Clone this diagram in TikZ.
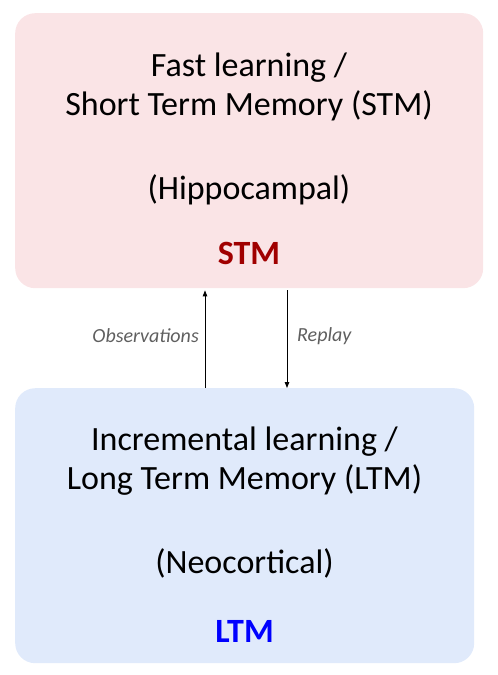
\documentclass[tikz,border=0pt]{standalone}
\usepackage{fontspec}
\setmainfont{Carlito}
\usetikzlibrary{arrows.meta}
\definecolor{stmfill}{RGB}{250,228,230}
\definecolor{ltmfill}{RGB}{224,234,251}
\definecolor{stmred}{RGB}{160,0,0}
\definecolor{ltmblue}{RGB}{0,0,255}
\definecolor{lblgray}{RGB}{95,95,95}
\begin{document}
\begin{tikzpicture}[x=1pt,y=-1pt,
  memb/.style={rounded corners=20pt,inner sep=0pt,anchor=north west},
  txt/.style={font=\fontsize{34}{38}\selectfont,anchor=base,inner sep=0pt},
  tag/.style={font=\fontsize{34}{38}\selectfont\bfseries,anchor=base,inner sep=0pt},
  lbl/.style={font=\fontsize{20}{24}\selectfont\itshape,text=lblgray,inner sep=0pt},
  arr/.style={line width=0.9pt,-{Triangle[length=6pt,width=4.5pt]}}]
\useasboundingbox (0,0) rectangle (498,675);
\node[memb,fill=stmfill,minimum width=468pt,minimum height=275pt] (stm) at (15,13) {};
\node[memb,fill=ltmfill,minimum width=459pt,minimum height=275pt] (ltm) at (15,388) {};
\node[txt] (s1) at (249,76) {Fast learning /};
\node[txt] (s2) at (249,115) {Short Term Memory (STM)};
\node[txt] (s3) at (249,199) {(Hippocampal)};
\node[tag,text=stmred] (s4) at (249,264) {STM};
\node[txt] (l1) at (244.5,450) {Incremental learning /};
\node[txt] (l2) at (244.5,489) {Long Term Memory (LTM)};
\node[txt] (l3) at (244.5,573) {(Neocortical)};
\node[tag,text=ltmblue] (l4) at (244.5,642) {LTM};
\coordinate (ax) at (205,0);
\coordinate (bx) at (287,0);
\draw[arr,shorten >=2pt] (ltm.north -| ax) -- (stm.south -| ax);
\draw[arr,shorten <=2pt] (stm.south -| bx) -- (ltm.north -| bx);
\node[lbl,anchor=east] (obs) at (199,336) {Observations};
\node[lbl,anchor=west] (rep) at (297,336) {Replay};
\end{tikzpicture}
\end{document}
